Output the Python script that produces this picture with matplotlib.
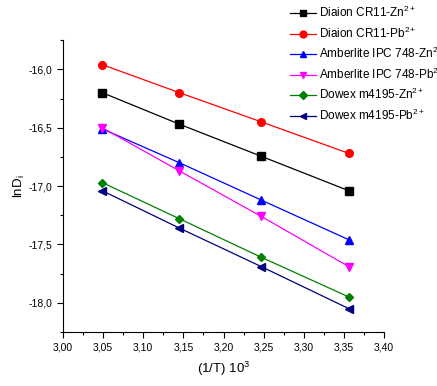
import matplotlib
matplotlib.use("Agg")
import matplotlib.pyplot as plt
from matplotlib.ticker import MultipleLocator, FuncFormatter

plt.rcParams['font.family'] = ['Liberation Sans', 'DejaVu Sans']
plt.rcParams['mathtext.fontset'] = 'custom'
plt.rcParams['mathtext.rm'] = 'Liberation Sans'
plt.rcParams['mathtext.it'] = 'Liberation Sans'

x = [3.049, 3.145, 3.247, 3.356]
diaion_zn = [-16.20, -16.47, -16.745, -17.04]
diaion_pb = [-15.96, -16.20, -16.45, -16.72]
amber_zn = [-16.51, -16.80, -17.12, -17.46]
amber_pb = [-16.50, -16.87, -17.26, -17.69]
dowex_zn = [-16.97, -17.28, -17.61, -17.95]
dowex_pb = [-17.04, -17.36, -17.69, -18.05]

series = [
    (diaion_zn, 'Diaion CR11-Zn$^{2+}$', 'black', 's'),
    (diaion_pb, 'Diaion CR11-Pb$^{2+}$', 'red', 'o'),
    (amber_zn, 'Amberlite IPC 748-Zn$^{2+}$', 'blue', '^'),
    (amber_pb, 'Amberlite IPC 748-Pb$^{2+}$', 'magenta', 'v'),
    (dowex_zn, 'Dowex m4195-Zn$^{2+}$', 'green', 'D'),
    (dowex_pb, 'Dowex m4195-Pb$^{2+}$', 'navy', '<'),
]

fig = plt.figure(figsize=(4.37, 3.86), dpi=100)
ax = fig.add_axes([0.144, 0.140, 0.735, 0.756])
for ys, lab, c, m in series:
    ms = 4.5 if m == 'D' else 5.5
    ax.plot(x, ys, color=c, marker=m, markersize=ms, linewidth=0.9, label=lab)

ax.set_xlim(3.00, 3.40)
ax.set_ylim(-18.25, -15.75)
ax.xaxis.set_major_locator(MultipleLocator(0.05))
ax.xaxis.set_minor_locator(MultipleLocator(0.025))
ax.yaxis.set_major_locator(MultipleLocator(0.5))
ax.yaxis.set_minor_locator(MultipleLocator(0.25))
ax.xaxis.set_major_formatter(FuncFormatter(lambda v, p: f"{v:.2f}".replace('.', ',')))
ax.yaxis.set_major_formatter(FuncFormatter(lambda v, p: f"{v:.1f}".replace('.', ',')))
ax.spines['top'].set_visible(False)
ax.spines['right'].set_visible(False)
ax.tick_params(which='major', direction='out', length=4, width=0.8, labelsize=7.5)
ax.tick_params(which='minor', direction='out', length=2.5, width=0.8)
ax.set_xlabel('(1/T) 10$^3$', fontsize=9.5, labelpad=5)
ax.set_ylabel('lnD$_{\\rm i}$', fontsize=9.5, labelpad=1)

leg = fig.legend(loc='upper left', bbox_to_anchor=(0.648, 1.005), frameon=False,
                 fontsize=8.5, handlelength=2.2, handletextpad=0.25,
                 labelspacing=0.45, borderaxespad=0.2, markerscale=0.9)
fig.savefig('out.png', dpi=100)
